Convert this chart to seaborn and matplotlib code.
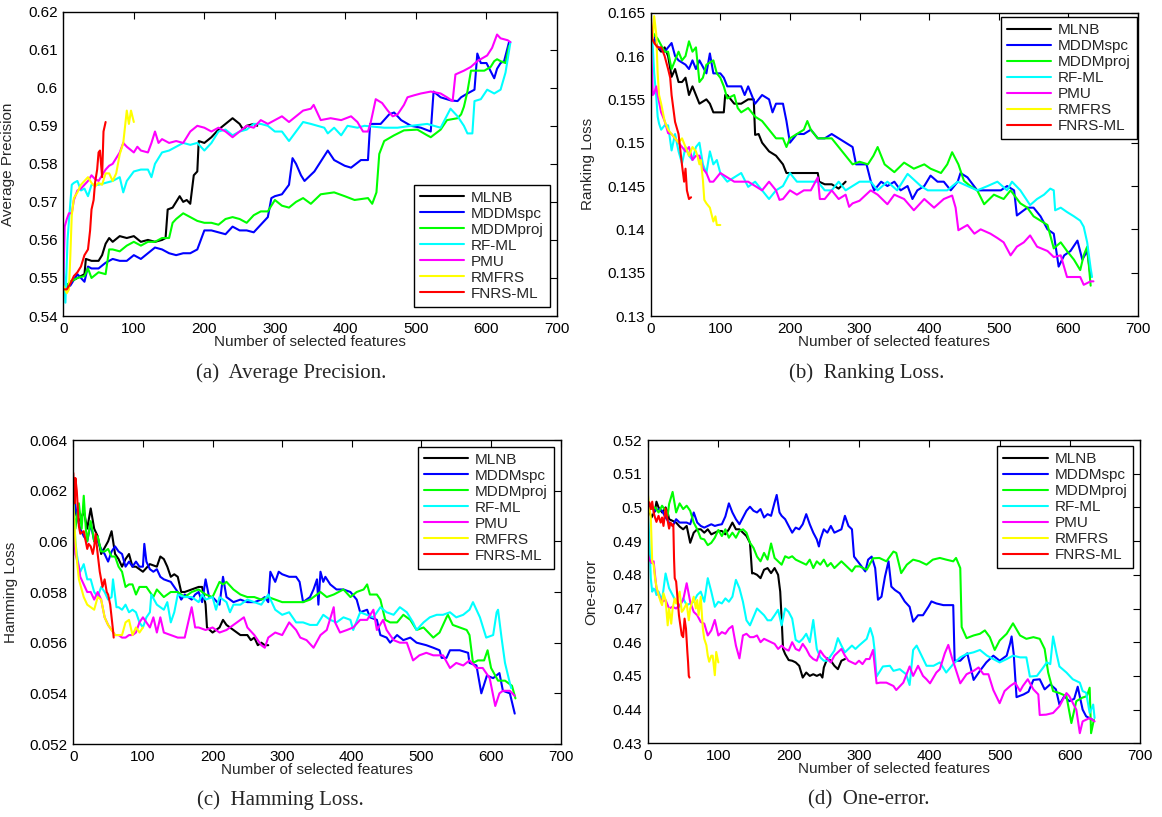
import numpy as np
import pandas as pd
import matplotlib
matplotlib.use("Agg")
import matplotlib.pyplot as plt
import seaborn as sns

# ---------------- data (feature count, metric value) ----------------
METHODS = ["MLNB", "MDDMspc", "MDDMproj", "RF-ML", "PMU", "RMFRS", "FNRS-ML"]
COLORS = ["#000000", "#0000ff", "#00ff00", "#00ffff", "#ff00ff", "#ffff00", "#ff0000"]

# (a) Average Precision
AP_MLNB = [(0,.547),(10,.549),(20,.550),(30,.551),(32,.555),(40,.5545),(50,.5545),(55,.556),(60,.559),(65,.5605),(70,.5595),(80,.561),(90,.5605),(100,.561),(110,.5595),(120,.560),(130,.5595),(140,.560),(145,.5605),(148,.568),(155,.5685),(160,.570),(165,.5715),(170,.570),(175,.5705),(180,.5695),(185,.577),(190,.578),(192,.586),(200,.5855),(210,.587),(220,.589),(230,.5905),(240,.592),(250,.5905),(255,.589),(260,.590),(270,.5905),(275,.590)]
AP_MDDMSPC = [(0,.547),(10,.548),(20,.551),(30,.549),(35,.553),(40,.5525),(50,.5525),(60,.554),(70,.555),(80,.5545),(90,.5545),(100,.556),(110,.555),(120,.5565),(130,.558),(140,.5575),(150,.5565),(160,.556),(170,.5565),(180,.5565),(190,.5575),(200,.5625),(210,.5625),(220,.562),(230,.5615),(240,.5635),(250,.5625),(260,.5625),(270,.562),(280,.564),(290,.566),(295,.571),(300,.5715),(310,.572),(320,.5745),(325,.5815),(330,.580),(337,.577),(342,.5755),(356,.578),(375,.5835),(384,.581),(399,.5795),(408,.579),(422,.581),(432,.581),(435,.5905),(450,.5905),(462,.593),(469,.5935),(479,.5915),(493,.590),(507,.5895),(521,.5885),(525,.599),(535,.5975),(549,.5967),(559,.5965),(564,.5975),(573,.5985),(583,.5995),(587,.609),(592,.6065),(600,.6065),(611,.6025),(615,.605),(620,.6065),(625,.607),(632,.612)]
AP_MDDMPROJ = [(0,.547),(10,.549),(20,.550),(30,.5505),(35,.5525),(40,.550),(50,.5515),(60,.551),(65,.5575),(70,.5575),(80,.557),(90,.5585),(100,.5595),(110,.5585),(120,.5595),(130,.5595),(140,.5605),(150,.5605),(155,.5645),(160,.5655),(170,.567),(180,.566),(190,.565),(200,.5645),(210,.5645),(220,.564),(230,.5655),(240,.566),(250,.5655),(260,.5645),(270,.5665),(280,.5675),(290,.5675),(300,.5705),(310,.569),(320,.5685),(330,.570),(340,.571),(351,.5695),(365,.572),(384,.5725),(399,.5715),(413,.5705),(432,.571),(438,.5695),(444,.5725),(448,.5826),(455,.586),(469,.5875),(483,.5888),(502,.589),(516,.5875),(521,.587),(535,.589),(544,.5915),(559,.592),(564,.593),(568,.595),(573,.599),(578,.6045),(587,.6045),(597,.6045),(606,.6055),(611,.607),(615,.6075),(620,.607),(627,.6065),(632,.611)]
AP_RFML = [(0,.555),(3,.5435),(6,.560),(8,.565),(12,.5745),(15,.575),(20,.5755),(25,.573),(30,.5735),(35,.5715),(40,.5745),(50,.5745),(60,.575),(70,.5755),(80,.5765),(85,.5725),(90,.5755),(100,.578),(110,.5785),(120,.5785),(125,.5765),(130,.580),(140,.583),(150,.5835),(160,.5845),(170,.5855),(180,.585),(190,.5855),(200,.5835),(210,.5855),(220,.5885),(230,.589),(240,.5875),(250,.5885),(260,.589),(270,.5905),(280,.5905),(290,.590),(300,.5885),(310,.5885),(320,.586),(330,.5885),(340,.591),(351,.5905),(370,.5895),(375,.588),(384,.5895),(394,.5875),(403,.590),(417,.5895),(427,.590),(455,.5895),(474,.5895),(493,.590),(516,.5905),(535,.5895),(549,.5945),(559,.5925),(568,.590),(573,.588),(580,.588),(583,.5965),(592,.597),(601,.5995),(611,.5985),(620,.5995),(627,.604),(634,.612)]
AP_PMU = [(0,.548),(2,.5635),(5,.5655),(8,.567),(12,.567),(15,.5705),(20,.573),(25,.5735),(30,.5745),(35,.5755),(40,.577),(45,.576),(50,.5755),(55,.577),(60,.5785),(65,.5795),(70,.580),(75,.5815),(80,.583),(85,.5855),(90,.5845),(100,.583),(105,.5845),(110,.5835),(120,.583),(125,.5855),(130,.5885),(135,.5855),(140,.5865),(150,.5855),(160,.586),(170,.5855),(180,.5885),(190,.590),(200,.5895),(210,.5885),(220,.5895),(230,.5885),(240,.587),(250,.5885),(260,.590),(270,.5895),(280,.5915),(290,.5905),(300,.5915),(310,.5925),(320,.591),(330,.5925),(340,.594),(351,.5945),(355,.5955),(365,.5915),(379,.592),(394,.5915),(408,.5925),(417,.591),(425,.5885),(432,.5885),(436,.591),(443,.597),(452,.596),(460,.594),(467,.5925),(474,.593),(483,.5955),(488,.5975),(497,.598),(507,.5985),(521,.599),(535,.5985),(544,.5975),(552,.5965),(556,.6035),(568,.6045),(578,.6055),(587,.607),(601,.6085),(608,.6105),(615,.614),(620,.613),(630,.6125),(634,.612)]
AP_RMFRS = [(0,.548),(5,.546),(8,.547),(10,.556),(12,.5665),(15,.571),(20,.5725),(25,.5745),(30,.5755),(35,.5765),(40,.575),(45,.574),(50,.575),(55,.5745),(60,.5775),(65,.5775),(70,.5755),(75,.5775),(80,.5825),(85,.5855),(90,.594),(93,.5905),(96,.594),(100,.591)]
AP_FNRS = [(0,.547),(5,.547),(10,.5485),(15,.5505),(20,.5515),(25,.553),(30,.556),(35,.5575),(38,.5625),(40,.568),(43,.5705),(45,.575),(48,.5785),(50,.583),(52,.5835),(55,.5765),(57,.5885),(60,.591)]

# (b) Ranking Loss
RL_MLNB = [(0,.163),(5,.162),(10,.161),(15,.1605),(20,.161),(25,.160),(30,.1576),(35,.1585),(40,.157),(45,.157),(50,.1575),(55,.1555),(60,.1565),(70,.1545),(80,.155),(85,.1545),(90,.1535),(100,.1535),(105,.1535),(107,.1555),(110,.1555),(120,.1545),(130,.1545),(140,.155),(148,.155),(150,.1509),(155,.151),(160,.150),(170,.149),(180,.1485),(190,.1475),(195,.1465),(200,.1465),(210,.1465),(220,.1465),(230,.1465),(240,.1465),(242,.1455),(250,.1452),(260,.1452),(270,.1447),(280,.1455)]
RL_MDDMSPC = [(0,.163),(10,.161),(20,.1605),(30,.1615),(35,.160),(40,.1595),(50,.159),(55,.1585),(60,.1595),(65,.1585),(70,.1595),(80,.158),(85,.1603),(90,.158),(100,.158),(105,.1575),(110,.1565),(120,.1565),(130,.1565),(135,.1555),(140,.1565),(150,.1545),(160,.1555),(170,.155),(175,.1535),(180,.1545),(190,.1545),(195,.1525),(200,.150),(205,.1505),(210,.151),(220,.151),(230,.1515),(240,.1505),(250,.1505),(260,.151),(270,.1505),(280,.150),(290,.1495),(295,.1475),(300,.1475),(310,.1475),(316,.1456),(321,.1445),(331,.1455),(340,.145),(350,.1455),(359,.1445),(369,.145),(376,.1435),(383,.1445),(393,.145),(402,.1462),(412,.1455),(421,.1455),(431,.1445),(441,.1455),(445,.1465),(455,.146),(469,.1445),(484,.1445),(493,.1445),(503,.1445),(512,.145),(522,.1445),(526,.1416),(541,.1425),(550,.1425),(560,.1415),(570,.140),(579,.1395),(586,.1357),(594,.137),(603,.1375),(613,.1387),(620,.1365),(627,.1375),(632,.1345)]
RL_MDDMPROJ = [(0,.163),(5,.1625),(10,.162),(20,.1605),(25,.1605),(30,.1585),(35,.1595),(40,.1605),(45,.1595),(50,.160),(55,.1617),(60,.1605),(65,.161),(70,.157),(75,.1575),(80,.159),(90,.1595),(95,.158),(100,.1575),(105,.1565),(110,.1551),(120,.1555),(125,.154),(130,.1535),(140,.154),(150,.153),(160,.1525),(170,.1515),(175,.151),(180,.1505),(190,.1505),(195,.1495),(200,.1505),(210,.151),(220,.1515),(225,.1525),(230,.1515),(240,.1505),(250,.1505),(260,.1505),(270,.1495),(280,.1485),(290,.1475),(300,.1478),(312,.1475),(320,.1485),(326,.1495),(336,.1475),(350,.1466),(364,.1477),(378,.147),(393,.1475),(402,.147),(417,.1465),(426,.1475),(433,.1489),(442,.1475),(450,.1456),(459,.145),(469,.1445),(479,.1429),(493,.144),(507,.1435),(517,.1445),(531,.143),(541,.1425),(550,.1415),(560,.141),(570,.1405),(579,.1378),(589,.1385),(598,.1375),(608,.1365),(617,.1353),(622,.137),(627,.138),(632,.1335)]
RL_RFML = [(0,.163),(3,.1611),(5,.158),(8,.1553),(10,.153),(12,.1522),(15,.1515),(20,.152),(25,.152),(30,.1491),(35,.151),(40,.149),(45,.1476),(50,.1495),(55,.1485),(60,.148),(65,.1495),(70,.150),(75,.1475),(80,.1465),(85,.149),(90,.1475),(95,.148),(100,.1465),(110,.1455),(120,.146),(130,.1465),(140,.1449),(150,.1455),(160,.1445),(170,.1435),(180,.1445),(190,.145),(200,.1465),(210,.1455),(220,.1455),(230,.1455),(240,.1455),(250,.1445),(260,.1445),(270,.1455),(280,.1445),(290,.145),(300,.1455),(316,.1455),(326,.1445),(340,.1455),(354,.1445),(369,.1464),(388,.145),(398,.1445),(412,.1445),(426,.1445),(441,.1455),(455,.145),(469,.1445),(484,.145),(498,.1455),(512,.1445),(519,.1455),(531,.1445),(545,.1428),(555,.1435),(565,.144),(574,.1447),(579,.1445),(581,.1422),(589,.1425),(598,.142),(608,.1415),(617,.141),(622,.1403),(627,.1385),(632,.1355),(634,.1345)]
RL_PMU = [(0,.162),(2,.158),(3,.1555),(5,.1557),(8,.1565),(10,.1555),(15,.1535),(20,.1525),(25,.1511),(30,.151),(35,.1505),(40,.150),(45,.1495),(50,.149),(55,.1495),(60,.148),(65,.1485),(70,.1485),(75,.147),(80,.1465),(85,.1455),(90,.1455),(100,.1465),(110,.146),(120,.1455),(130,.1455),(140,.1455),(150,.145),(160,.1445),(170,.1455),(180,.1445),(185,.1434),(190,.1435),(200,.1445),(210,.144),(220,.1445),(230,.1445),(240,.146),(243,.1435),(250,.1435),(260,.1445),(270,.1435),(280,.144),(285,.1426),(290,.143),(300,.1433),(316,.1445),(326,.144),(340,.1429),(350,.144),(364,.1435),(378,.1422),(393,.1435),(407,.1425),(421,.1435),(433,.1439),(438,.1425),(442,.1399),(455,.1405),(465,.1395),(474,.140),(488,.1395),(498,.139),(507,.1385),(517,.137),(526,.138),(536,.1385),(545,.1393),(555,.138),(570,.1375),(579,.1368),(589,.137),(598,.1345),(608,.1345),(617,.1345),(622,.1336),(632,.134),(636,.134)]
RL_RMFRS = [(0,.164),(3,.162),(5,.1646),(8,.1625),(10,.158),(12,.1555),(15,.1545),(20,.1525),(25,.1515),(30,.151),(35,.1505),(40,.150),(45,.1505),(50,.1495),(55,.1485),(60,.1495),(65,.149),(67,.1485),(70,.1475),(72,.148),(75,.1457),(77,.1434),(80,.143),(85,.1425),(90,.1409),(93,.1415),(95,.1405),(100,.1405)]
RL_FNRS = [(0,.165),(2,.162),(5,.1615),(10,.161),(15,.161),(20,.160),(25,.1585),(28,.1575),(30,.1555),(35,.1524),(40,.151),(45,.1474),(48,.1455),(50,.147),(52,.1445),(55,.1435),(58,.1437)]

# (c) Hamming Loss
HL_MLNB = [(0,.0615),(5,.061),(10,.0608),(15,.0612),(20,.0605),(25,.0613),(30,.0605),(35,.0602),(40,.0595),(50,.0600),(55,.0604),(60,.0595),(65,.0593),(70,.059),(75,.0593),(80,.0595),(85,.059),(90,.059),(95,.0589),(100,.0588),(110,.0591),(120,.059),(125,.0594),(130,.0593),(135,.059),(140,.0586),(145,.0587),(150,.0586),(155,.058),(160,.058),(170,.0581),(180,.0582),(185,.0582),(190,.0575),(192,.0566),(200,.0564),(210,.0566),(215,.0569),(220,.0567),(230,.0565),(240,.0563),(250,.0563),(255,.0561),(260,.0562),(265,.0559),(270,.056),(275,.0559),(280,.0559)]
HL_MDDMSPC = [(0,.062),(5,.061),(10,.0605),(15,.0602),(20,.060),(25,.0607),(30,.060),(35,.060),(40,.0597),(45,.0595),(50,.0592),(55,.0596),(60,.0598),(65,.0596),(70,.0595),(75,.059),(80,.0592),(85,.059),(90,.0592),(95,.059),(100,.059),(102,.0599),(105,.0592),(110,.0589),(115,.0588),(120,.0589),(125,.0586),(130,.0585),(140,.0584),(150,.058),(155,.0577),(160,.0579),(165,.0578),(170,.0577),(175,.0579),(180,.058),(185,.0576),(190,.0585),(195,.0578),(200,.0578),(210,.0575),(215,.0586),(220,.0578),(230,.0576),(240,.0577),(250,.0576),(260,.0576),(270,.0577),(275,.0578),(280,.0576),(283,.0588),(290,.0584),(295,.0588),(300,.0587),(310,.0586),(320,.0586),(325,.0584),(330,.0576),(340,.0578),(345,.0581),(350,.0585),(352,.0575),(355,.0588),(359,.0584),(362,.0586),(369,.0583),(378,.0581),(388,.0581),(398,.058),(407,.0577),(412,.0572),(422,.0573),(426,.057),(436,.0569),(441,.0563),(450,.0562),(455,.056),(465,.0563),(474,.0561),(484,.0562),(493,.056),(507,.0559),(517,.0558),(526,.0557),(529,.0554),(536,.0554),(541,.0557),(555,.0557),(567,.0556),(569,.0552),(579,.0551),(586,.054),(594,.0547),(603,.0546),(612,.0548),(617,.0541),(627,.054),(634,.0532)]
HL_MDDMPROJ = [(0,.0615),(3,.0605),(8,.0615),(12,.0605),(15,.0618),(18,.0605),(20,.060),(25,.0608),(30,.060),(35,.0602),(40,.0596),(45,.0596),(50,.0597),(55,.0594),(60,.0594),(65,.059),(70,.0588),(75,.0582),(80,.0583),(85,.0583),(90,.0579),(95,.0582),(100,.0582),(105,.0582),(110,.058),(115,.0578),(120,.0581),(130,.0578),(140,.058),(150,.058),(160,.0578),(170,.058),(180,.0581),(190,.0579),(200,.0578),(210,.0584),(215,.0583),(220,.0584),(230,.0581),(240,.0579),(250,.0578),(260,.0578),(270,.0577),(280,.0578),(290,.0577),(300,.0576),(310,.0576),(320,.0576),(330,.0576),(340,.0577),(355,.058),(364,.0578),(374,.0579),(388,.0581),(398,.0578),(407,.058),(417,.0581),(422,.0583),(426,.0579),(436,.0579),(441,.0577),(448,.0569),(455,.0568),(465,.0568),(474,.0571),(484,.0569),(493,.0565),(503,.0566),(517,.0562),(526,.0564),(536,.057),(538,.0571),(545,.0567),(555,.0566),(565,.0565),(569,.0563),(574,.0552),(581,.0553),(590,.0553),(595,.0557),(600,.055),(610,.0545),(620,.0545),(630,.0543),(635,.0538)]
HL_RFML = [(0,.0615),(3,.060),(5,.0595),(8,.059),(10,.0588),(15,.0591),(20,.0585),(25,.0585),(30,.058),(35,.0578),(40,.0582),(45,.058),(50,.0577),(55,.0578),(57,.0585),(62,.0574),(65,.0574),(70,.0573),(75,.0575),(80,.0572),(85,.0573),(90,.0572),(95,.0568),(100,.0566),(105,.057),(110,.0572),(112,.0579),(120,.0575),(130,.0573),(135,.0576),(140,.0568),(145,.0572),(150,.0579),(160,.0578),(170,.0578),(180,.0576),(185,.0579),(190,.0577),(200,.0578),(205,.0573),(210,.0578),(220,.0576),(225,.0572),(230,.0575),(240,.0575),(250,.0577),(260,.0576),(270,.0575),(280,.0579),(285,.0576),(290,.0573),(300,.0571),(310,.0572),(320,.0568),(330,.0568),(340,.0567),(350,.0567),(359,.0571),(369,.0569),(378,.0568),(388,.057),(398,.0569),(402,.0565),(412,.0572),(431,.057),(441,.0574),(450,.0572),(460,.0571),(469,.0574),(479,.0572),(488,.0568),(493,.0565),(503,.0568),(512,.057),(522,.0571),(531,.0571),(541,.0572),(550,.057),(560,.0571),(569,.0573),(574,.0576),(584,.057),(593,.0562),(603,.0563),(608,.0572),(610,.0573),(615,.0562),(620,.0552),(627,.0544),(629,.0542)]
HL_PMU = [(0,.0608),(3,.0595),(5,.0593),(8,.059),(10,.0586),(15,.0583),(20,.058),(25,.058),(30,.0577),(35,.058),(40,.0577),(45,.057),(50,.0567),(55,.0565),(60,.0563),(65,.0563),(70,.0562),(75,.0562),(80,.0563),(85,.0563),(90,.0564),(95,.0568),(100,.057),(110,.0566),(115,.057),(120,.0564),(125,.057),(130,.0564),(140,.0563),(150,.0562),(160,.0562),(170,.0574),(175,.0566),(180,.0566),(190,.0565),(200,.0566),(210,.0564),(220,.0565),(230,.0567),(240,.0569),(245,.057),(250,.0566),(260,.0563),(270,.0559),(275,.0558),(280,.0562),(290,.0564),(300,.0563),(310,.0568),(320,.0565),(326,.0562),(335,.0561),(345,.0558),(355,.0563),(364,.0565),(374,.0574),(376,.0568),(383,.0564),(393,.0565),(402,.0566),(412,.0569),(422,.0569),(431,.0573),(436,.0565),(445,.0569),(450,.0565),(460,.0561),(469,.056),(479,.056),(488,.0553),(497,.0555),(507,.0556),(517,.0555),(531,.0555),(541,.055),(550,.0552),(560,.0551),(569,.0553),(579,.055),(588,.055),(598,.0546),(606,.0535),(612,.054),(617,.0541),(627,.0541),(634,.0539)]
HL_RMFRS = [(0,.0615),(3,.060),(5,.0593),(8,.0585),(10,.0583),(15,.0578),(20,.0575),(25,.0574),(30,.0573),(35,.0578),(40,.0577),(45,.057),(50,.0567),(55,.0565),(60,.0563),(65,.0563),(70,.0563),(75,.0568),(80,.0569),(85,.0563),(90,.0566),(95,.0564),(100,.0566)]
HL_FNRS = [(0,.0627),(2,.0615),(3,.0625),(5,.062),(8,.0606),(10,.0603),(15,.0604),(20,.0597),(22,.0599),(25,.0598),(28,.0595),(30,.0598),(32,.0603),(35,.0595),(38,.0588),(40,.0585),(42,.0582),(45,.0585),(48,.058),(50,.0579),(53,.0575),(55,.057),(57,.0565),(58,.0562)]

# (d) One-error
OE_MLNB = [(0,.500),(5,.497),(10,.499),(12,.5017),(15,.500),(20,.4985),(25,.500),(28,.4985),(30,.4965),(35,.496),(40,.4955),(45,.4943),(50,.4935),(55,.4945),(60,.4895),(65,.4925),(70,.4935),(75,.4935),(80,.4925),(85,.4935),(90,.492),(95,.4925),(100,.493),(105,.493),(110,.492),(115,.4935),(120,.4955),(125,.4935),(130,.4935),(135,.4925),(140,.4915),(145,.4895),(148,.4804),(150,.4805),(155,.480),(160,.479),(165,.4815),(170,.482),(175,.4805),(180,.482),(185,.480),(188,.475),(190,.467),(192,.458),(195,.4565),(200,.4547),(205,.4545),(210,.454),(215,.453),(220,.4495),(225,.451),(230,.450),(235,.4505),(240,.450),(245,.4505),(248,.4495),(250,.4525),(255,.4552),(260,.4545),(265,.453),(270,.452),(275,.4545),(280,.455)]
OE_MDDMSPC = [(0,.499),(5,.500),(10,.499),(15,.4995),(20,.499),(25,.497),(30,.4955),(35,.4945),(40,.4965),(45,.4955),(50,.4955),(55,.4955),(60,.495),(65,.4985),(70,.4955),(75,.4945),(80,.494),(85,.4945),(90,.495),(95,.4945),(100,.4948),(105,.495),(110,.4973),(115,.5012),(120,.4985),(125,.4965),(130,.495),(135,.497),(140,.499),(145,.5002),(150,.499),(155,.4985),(160,.4995),(165,.497),(170,.498),(175,.4975),(180,.5015),(183,.5037),(187,.4985),(190,.4975),(195,.4965),(200,.4945),(205,.4925),(210,.494),(215,.4935),(220,.495),(225,.498),(230,.495),(235,.4925),(240,.4905),(243,.4884),(245,.4905),(250,.4935),(255,.4925),(260,.4945),(265,.4925),(270,.493),(275,.4935),(280,.4975),(285,.4945),(290,.4935),(293,.4854),(300,.4835),(309,.481),(313,.4845),(318,.4854),(323,.482),(327,.4726),(332,.4735),(337,.4795),(342,.484),(346,.4765),(351,.4755),(358,.4745),(365,.4721),(372,.4705),(377,.4661),(384,.468),(391,.468),(399,.4706),(403,.4721),(410,.4715),(420,.471),(429,.471),(434,.471),(436,.4545),(444,.4545),(454,.4567),(463,.4488),(472,.4515),(481,.454),(491,.456),(500,.4545),(510,.456),(515,.4597),(517,.4617),(520,.4565),(524,.4437),(534,.4445),(541,.4453),(548,.4488),(557,.449),(564,.446),(572,.4475),(580,.446),(585,.4415),(592,.444),(599,.4425),(606,.4432),(611,.4468),(618,.44),(623,.438),(632,.437)]
OE_MDDMPROJ = [(0,.500),(5,.4995),(10,.500),(15,.4985),(20,.5005),(25,.499),(28,.4975),(30,.501),(35,.5046),(40,.4985),(45,.5012),(50,.4995),(55,.5005),(60,.499),(65,.4955),(70,.4935),(75,.4908),(80,.4905),(85,.4888),(90,.4895),(95,.491),(100,.4933),(105,.4915),(110,.4935),(115,.491),(120,.4925),(125,.491),(130,.493),(135,.4935),(140,.4925),(145,.4895),(150,.488),(155,.4854),(160,.484),(165,.4865),(170,.4845),(175,.4893),(180,.485),(185,.484),(190,.483),(195,.4855),(200,.485),(205,.4855),(210,.4845),(215,.484),(220,.4835),(225,.483),(230,.4845),(235,.482),(240,.484),(245,.483),(250,.4845),(255,.4825),(260,.4835),(265,.482),(270,.483),(275,.484),(280,.483),(285,.482),(290,.481),(295,.4825),(301,.4825),(311,.4815),(320,.4849),(329,.485),(339,.484),(349,.4869),(353,.4865),(360,.4805),(368,.483),(377,.4845),(386,.484),(396,.483),(405,.4845),(415,.485),(424,.4845),(434,.484),(438,.485),(444,.482),(446,.4645),(453,.4612),(463,.462),(472,.4625),(479,.4635),(486,.4615),(493,.4577),(500,.4605),(510,.4625),(519,.4656),(529,.462),(538,.461),(548,.4615),(557,.461),(564,.458),(569,.451),(576,.4455),(585,.4449),(595,.444),(602,.436),(609,.4425),(617,.4435),(624,.444),(628,.4465),(630,.433),(634,.437)]
OE_RFML = [(0,.498),(2,.490),(4,.4789),(6,.475),(8,.4759),(10,.4755),(12,.474),(15,.475),(20,.4725),(25,.4804),(30,.476),(35,.474),(40,.472),(45,.4705),(50,.473),(55,.471),(60,.4715),(65,.472),(70,.474),(75,.475),(80,.472),(85,.479),(90,.475),(95,.4705),(100,.472),(105,.4715),(110,.473),(115,.472),(120,.4735),(125,.4785),(130,.476),(135,.472),(140,.4665),(145,.465),(150,.4675),(155,.470),(160,.469),(165,.468),(170,.4665),(175,.4665),(180,.468),(185,.4696),(190,.465),(195,.470),(200,.469),(205,.467),(210,.4607),(215,.460),(220,.461),(225,.4625),(230,.460),(235,.4666),(240,.458),(245,.4555),(250,.4545),(255,.4545),(260,.456),(265,.4575),(270,.4612),(275,.459),(280,.457),(285,.458),(290,.459),(295,.458),(300,.459),(311,.461),(316,.4642),(320,.4615),(322,.458),(325,.4498),(334,.4528),(344,.453),(349,.4515),(358,.452),(367,.4505),(372,.4473),(377,.4577),(382,.459),(389,.456),(396,.453),(406,.453),(415,.454),(424,.451),(434,.4535),(444,.4555),(453,.4565),(463,.457),(472,.4577),(482,.456),(491,.455),(500,.454),(510,.455),(519,.456),(529,.4555),(538,.4555),(543,.4498),(553,.450),(562,.4525),(567,.454),(572,.4535),(576,.4617),(581,.4565),(585,.4528),(595,.451),(604,.449),(614,.448),(618,.4455),(623,.445),(628,.439),(633,.4415),(635,.4375)]
OE_PMU = [(0,.486),(2,.4845),(5,.4835),(8,.484),(10,.4799),(12,.476),(15,.474),(20,.472),(25,.4725),(30,.470),(35,.4705),(40,.470),(45,.471),(50,.4725),(55,.4775),(60,.472),(65,.469),(70,.468),(75,.466),(80,.4655),(85,.462),(90,.4635),(95,.4666),(100,.462),(105,.463),(110,.4625),(115,.464),(120,.4648),(125,.459),(130,.4552),(135,.462),(140,.4625),(145,.4615),(150,.4615),(155,.462),(160,.460),(165,.461),(170,.4605),(175,.460),(180,.4595),(185,.458),(190,.459),(195,.458),(200,.4575),(205,.460),(210,.458),(215,.4575),(220,.4595),(225,.458),(230,.456),(235,.455),(240,.4545),(245,.4575),(250,.456),(255,.455),(260,.454),(265,.456),(270,.457),(275,.458),(280,.456),(285,.4545),(290,.454),(295,.4535),(300,.4545),(305,.4535),(310,.455),(315,.455),(320,.4577),(325,.4478),(330,.448),(339,.448),(349,.447),(353,.4458),(363,.448),(372,.4528),(377,.450),(384,.453),(391,.450),(396,.449),(401,.4478),(410,.451),(415,.452),(422,.4567),(427,.4592),(432,.4555),(436,.453),(444,.4478),(453,.4505),(463,.4515),(470,.4525),(477,.4505),(484,.4505),(491,.4458),(500,.4419),(507,.4455),(515,.447),(522,.448),(529,.4455),(533,.447),(540,.449),(548,.446),(555,.4445),(557,.4384),(566,.4385),(576,.439),(585,.441),(595,.4449),(599,.444),(604,.442),(609,.440),(614,.433),(618,.4365),(628,.4375),(635,.4365)]
OE_RMFRS = [(0,.5036),(2,.500),(4,.497),(6,.4838),(8,.483),(10,.479),(12,.4765),(15,.474),(18,.472),(20,.471),(22,.4745),(25,.4725),(28,.465),(30,.470),(33,.4655),(35,.470),(38,.473),(40,.4715),(45,.475),(48,.469),(50,.4695),(55,.4715),(58,.4665),(60,.470),(63,.472),(65,.4735),(68,.470),(70,.4725),(72,.468),(75,.4735),(78,.464),(80,.461),(83,.4591),(85,.456),(87,.4542),(90,.456),(92,.456),(95,.4502),(97,.4571),(100,.454)]
OE_FNRS = [(0,.500),(2,.5015),(4,.4995),(6,.5017),(8,.4985),(10,.497),(12,.4957),(15,.4975),(18,.4955),(20,.497),(22,.4945),(25,.4997),(28,.496),(30,.4937),(32,.4955),(35,.4945),(36,.495),(37,.485),(38,.479),(40,.478),(42,.473),(44,.468),(46,.465),(48,.4621),(50,.4615),(52,.467),(54,.464),(56,.457),(57,.454),(58,.450),(59,.4495)]

X_TICKS = [0, 100, 200, 300, 400, 500, 600, 700]
AP_TICKS = ["0.54", "0.55", "0.56", "0.57", "0.58", "0.59", "0.6", "0.61", "0.62"]
RL_TICKS = ["0.13", "0.135", "0.14", "0.145", "0.15", "0.155", "0.16", "0.165"]
HL_TICKS = ["0.052", "0.054", "0.056", "0.058", "0.06", "0.062", "0.064"]
OE_TICKS = ["0.43", "0.44", "0.45", "0.46", "0.47", "0.48", "0.49", "0.5", "0.51", "0.52"]

PANELS = [
    dict(series=[AP_MLNB, AP_MDDMSPC, AP_MDDMPROJ, AP_RFML, AP_PMU, AP_RMFRS, AP_FNRS],
         ylabel="Average Precision", yticks=AP_TICKS, caption="(a)  Average Precision.",
         rect=(63.3, 11.7, 557.0, 316.0), leg=("lower right", (0.986, 0.03)),
         ylab_x=-0.098, cap=(291, 373)),
    dict(series=[RL_MLNB, RL_MDDMSPC, RL_MDDMPROJ, RL_RFML, RL_PMU, RL_RMFRS, RL_FNRS],
         ylabel="Ranking Loss", yticks=RL_TICKS, caption="(b)  Ranking Loss.",
         rect=(650.7, 12.7, 1138.0, 316.0), leg=("upper right", (0.9973, 0.985)),
         ylab_x=-0.114, cap=(867, 373)),
    dict(series=[HL_MLNB, HL_MDDMSPC, HL_MDDMPROJ, HL_RFML, HL_PMU, HL_RMFRS, HL_FNRS],
         ylabel="Hamming Loss", yticks=HL_TICKS, caption="(c)  Hamming Loss.",
         rect=(73.3, 440.0, 560.7, 744.0), leg=("upper right", (0.986, 0.978)),
         ylab_x=-0.113, cap=(280, 800)),
    dict(series=[OE_MLNB, OE_MDDMSPC, OE_MDDMPROJ, OE_RFML, OE_PMU, OE_RMFRS, OE_FNRS],
         ylabel="One-error", yticks=OE_TICKS, caption="(d)  One-error.",
         rect=(648.0, 440.0, 1140.3, 743.3), leg=("upper right", (0.986, 0.980)),
         ylab_x=-0.101, cap=(869, 800)),
]

# ---------------- drawing ----------------
sns.set_style("white")
plt.rcParams["font.family"] = ["Liberation Sans", "DejaVu Sans"]
plt.rcParams["axes.linewidth"] = 1.0

W, H = 1162, 817
fig = plt.figure(figsize=(W / 100, H / 100), dpi=100)

for p in PANELS:
    x0, y0, x1, y1 = p["rect"]
    ax = fig.add_axes([x0 / W, 1 - y1 / H, (x1 - x0) / W, (y1 - y0) / H])
    for name, color, pts in zip(METHODS, COLORS, p["series"]):
        df = pd.DataFrame(pts, columns=["features", "value"])
        sns.lineplot(data=df, x="features", y="value", color=color, label=name,
                     linewidth=1.5, sort=False, estimator=None, ax=ax)
    ticks = [float(t) for t in p["yticks"]]
    ax.set_xlim(0, 700)
    ax.set_ylim(ticks[0], ticks[-1])
    ax.set_xticks(X_TICKS)
    ax.set_xticklabels([str(t) for t in X_TICKS])
    ax.set_yticks(ticks)
    ax.set_yticklabels(p["yticks"])
    ax.tick_params(direction="in", top=True, right=True, length=5, width=0.8,
                   labelsize=11, colors="black", pad=4)
    for s in ax.spines.values():
        s.set_color("black")
        s.set_linewidth(1.0)
    ax.set_xlabel("Number of selected features", fontsize=11)
    ax.set_ylabel(p["ylabel"], fontsize=11)
    ax.xaxis.set_label_coords(0.5, -0.062)
    ax.yaxis.set_label_coords(p["ylab_x"], 0.5)
    loc, anchor = p["leg"]
    leg = ax.legend(loc=loc, bbox_to_anchor=anchor, borderaxespad=0, fontsize=11,
                    frameon=True, fancybox=False, edgecolor="black", framealpha=1,
                    handlelength=2.9, handletextpad=0.45, borderpad=0.4,
                    labelspacing=0.13)
    leg.get_frame().set_linewidth(1.0)
    fig.text(p["cap"][0] / W, 1 - p["cap"][1] / H, p["caption"], ha="center", va="center",
             fontsize=15, family=["Liberation Serif", "DejaVu Serif"])

fig.savefig("out.png", dpi=100)
